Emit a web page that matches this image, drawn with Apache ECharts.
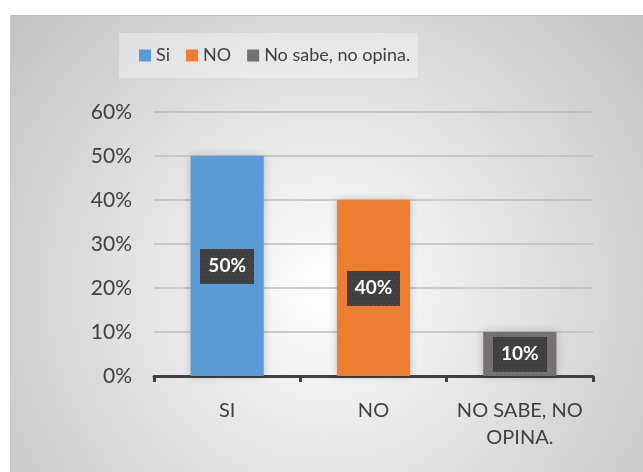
<!DOCTYPE html>
<html>
<head>
<meta charset="utf-8">
<script src="https://cdn.jsdelivr.net/npm/echarts@6/dist/echarts.min.js"></script>
<style>
    html, body { margin: 0; padding: 0; background: #ffffff; }
    #chart {
        position: absolute; left: 10px; top: 15px;
        width: 633px; height: 457px;
        border-top: 1px solid #bdbdbd; border-left: 1px solid #c8c8c8;
        box-sizing: border-box;
    }
</style>
</head>
<body>
<div id="chart"></div>
<script>
    var categories = ['SI', 'NO', 'NO SABE, NO\nOPINA.'];
    var seriesNames = ['Si', 'NO', 'No sabe, no opina.'];
    var values = [50, 40, 10];
    var colors = ['#5b9bd5', '#ed7d31', '#767171'];
    var yTicks = { min: 0, max: 60, interval: 10 };

    // fondo punteado para las etiquetas
    function dotPattern() {
        var c = document.createElement('canvas');
        c.width = 54; c.height = 35;
        var ctx = c.getContext('2d');
        ctx.fillStyle = '#3f3f3f';
        ctx.fillRect(0, 0, c.width, c.height);
        ctx.fillStyle = '#5a5a5a';
        for (var y = 2; y < c.height; y += 4) {
            for (var x = (y % 8 === 2 ? 2 : 4); x < c.width; x += 4) {
                ctx.fillRect(x, y, 1, 1);
            }
        }
        return c;
    }
    var pattern = dotPattern();

    var chart = echarts.init(document.getElementById('chart'));

    var series = seriesNames.map(function (name, i) {
        var data = categories.map(function (c, j) { return j === i ? values[i] : '-'; });
        return {
            name: name,
            type: 'bar',
            stack: 'total',
            barWidth: '50%',
            data: data,
            itemStyle: {
                color: colors[i],
                shadowBlur: 8,
                shadowColor: 'rgba(0,0,0,0.22)'
            },
            label: {
                show: true,
                position: 'inside',
                formatter: '{c}%',
                color: '#ffffff',
                fontFamily: 'Lato',
                fontWeight: 'bold',
                fontSize: 19,
                lineHeight: 19,
                backgroundColor: { image: pattern },
                padding: [8, 8],
                shadowBlur: 5,
                shadowOffsetX: 2,
                shadowOffsetY: 3,
                shadowColor: 'rgba(0,0,0,0.45)'
            }
        };
    });

    var options = {
        backgroundColor: {
            type: 'radial', x: 0.5, y: 0.6, r: 0.92,
            colorStops: [
                { offset: 0, color: '#ffffff' },
                { offset: 1, color: '#c2c2c2' }
            ]
        },
        animation: false,
        textStyle: { fontFamily: 'Lato' },
        legend: {
            data: seriesNames,
            left: 108, top: 17,
            padding: [13, 8, 13, 20],
            backgroundColor: 'rgba(255,255,255,0.35)',
            itemWidth: 12, itemHeight: 12,
            itemGap: 16,
            icon: 'rect',
            textStyle: { color: '#404040', fontSize: 18, lineHeight: 19, fontFamily: 'Lato' }
        },
        grid: { left: 143, right: 50, top: 96, bottom: 96 },
        xAxis: {
            type: 'category',
            data: categories,
            axisLine: { show: true, lineStyle: { color: '#404040', width: 3 } },
            axisTick: { show: true, length: 6, lineStyle: { color: '#404040', width: 3 } },
            axisLabel: {
                color: '#404040', fontSize: 20, lineHeight: 27, margin: 21,
                interval: 0
            }
        },
        yAxis: {
            type: 'value',
            min: yTicks.min, max: yTicks.max, interval: yTicks.interval,
            axisLine: { show: false },
            axisTick: { show: false },
            axisLabel: { formatter: '{value}%', color: '#404040', fontSize: 21, margin: 22 },
            splitLine: { lineStyle: { color: '#bcbcbc', width: 1.5 } }
        },
        series: series
    };
    chart.setOption(options);
</script>
</body>
</html>
